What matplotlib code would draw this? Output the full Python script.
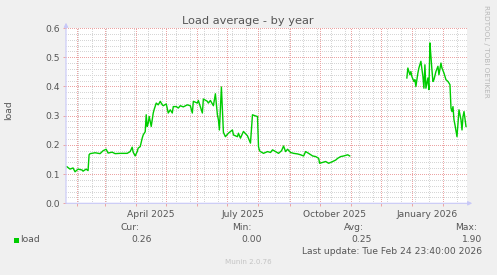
import matplotlib
matplotlib.use('Agg')
import matplotlib.pyplot as plt
import numpy as np
import pandas as pd

# ---------------- data ----------------
dates_a = [
    "2025-01-22", "2025-01-25", "2025-01-28", "2025-01-30",
    "2025-02-02", "2025-02-06", "2025-02-07", "2025-02-10", "2025-02-12", "2025-02-13", "2025-02-14", "2025-02-19", "2025-02-24", "2025-02-27",
    "2025-03-02", "2025-03-04", "2025-03-08", "2025-03-11", "2025-03-16", "2025-03-23", "2025-03-26", "2025-03-28", "2025-03-29", "2025-03-31",
    "2025-04-02", "2025-04-03", "2025-04-05", "2025-04-07", "2025-04-08", "2025-04-10", "2025-04-11", "2025-04-12", "2025-04-13", "2025-04-14", "2025-04-16", "2025-04-18", "2025-04-19", "2025-04-21", "2025-04-23", "2025-04-25", "2025-04-27", "2025-04-28",
    "2025-05-01", "2025-05-03", "2025-05-05", "2025-05-07", "2025-05-08", "2025-05-11", "2025-05-13", "2025-05-15", "2025-05-18", "2025-05-22", "2025-05-25", "2025-05-27", "2025-05-28",
    "2025-06-01", "2025-06-02", "2025-06-06", "2025-06-07", "2025-06-11", "2025-06-12", "2025-06-14", "2025-06-17", "2025-06-19", "2025-06-21", "2025-06-22", "2025-06-23", "2025-06-25", "2025-06-27", "2025-06-29",
    "2025-07-02", "2025-07-06", "2025-07-07", "2025-07-11", "2025-07-12", "2025-07-14", "2025-07-17", "2025-07-21", "2025-07-24", "2025-07-26", "2025-07-29", "2025-07-31",
    "2025-08-01", "2025-08-02", "2025-08-03", "2025-08-06", "2025-08-10", "2025-08-13", "2025-08-15", "2025-08-18", "2025-08-21", "2025-08-24", "2025-08-26", "2025-08-28", "2025-08-30",
    "2025-09-02", "2025-09-05", "2025-09-09", "2025-09-12", "2025-09-15", "2025-09-17", "2025-09-20", "2025-09-24", "2025-09-27", "2025-09-30",
    "2025-10-01", "2025-10-04", "2025-10-07", "2025-10-10", "2025-10-14", "2025-10-17", "2025-10-19", "2025-10-22", "2025-10-25", "2025-10-29", "2025-10-31",
]
load_a = [
    0.125, 0.117, 0.121, 0.108,
    0.117, 0.114, 0.110, 0.117, 0.112, 0.166, 0.170, 0.173, 0.170, 0.180,
    0.185, 0.172, 0.175, 0.170, 0.171, 0.171, 0.177, 0.192, 0.175, 0.162,
    0.177, 0.189, 0.194, 0.223, 0.234, 0.245, 0.303, 0.263, 0.274, 0.297, 0.263, 0.309, 0.322, 0.343, 0.337, 0.349, 0.337, 0.334,
    0.340, 0.309, 0.320, 0.309, 0.331, 0.331, 0.326, 0.334, 0.330, 0.337, 0.334, 0.309, 0.349,
    0.343, 0.352, 0.309, 0.357, 0.349, 0.343, 0.352, 0.334, 0.375, 0.303, 0.286, 0.251, 0.398, 0.243, 0.228,
    0.240, 0.251, 0.234, 0.228, 0.240, 0.223, 0.246, 0.231, 0.206, 0.303, 0.299, 0.297,
    0.194, 0.180, 0.177, 0.171, 0.177, 0.174, 0.183, 0.177, 0.171, 0.180, 0.196, 0.177, 0.185,
    0.174, 0.171, 0.169, 0.166, 0.162, 0.177, 0.171, 0.162, 0.160, 0.154,
    0.137, 0.140, 0.143, 0.137, 0.143, 0.148, 0.154, 0.160, 0.162, 0.166, 0.162,
]
dates_b = [
    "2025-12-27", "2025-12-28", "2025-12-30", "2025-12-31",
    "2026-01-01", "2026-01-03", "2026-01-04", "2026-01-05", "2026-01-07", "2026-01-08", "2026-01-10", "2026-01-12", "2026-01-13", "2026-01-14", "2026-01-15", "2026-01-17", "2026-01-18", "2026-01-19", "2026-01-20", "2026-01-21", "2026-01-22", "2026-01-23", "2026-01-25", "2026-01-27", "2026-01-28", "2026-01-30", "2026-01-31",
    "2026-02-02", "2026-02-04", "2026-02-06", "2026-02-08", "2026-02-09", "2026-02-10", "2026-02-11", "2026-02-12", "2026-02-13", "2026-02-15", "2026-02-16", "2026-02-17", "2026-02-19", "2026-02-20", "2026-02-21", "2026-02-22", "2026-02-24",
]
load_b = [
    0.429, 0.463, 0.440, 0.451,
    0.434, 0.417, 0.423, 0.400, 0.446, 0.463, 0.486, 0.434, 0.394, 0.474, 0.394, 0.429, 0.389, 0.549, 0.503, 0.457, 0.417, 0.423, 0.451, 0.469, 0.440, 0.480, 0.463,
    0.446, 0.423, 0.417, 0.406, 0.326, 0.314, 0.331, 0.286, 0.268, 0.228, 0.274, 0.320, 0.286, 0.251, 0.297, 0.314, 0.263,
]
y_ticks = [0.0, 0.1, 0.2, 0.3, 0.4, 0.5, 0.6]
x_tick_labels = ["April 2025", "July 2025", "October 2025", "January 2026"]
x_tick_months = ["2025-04-01", "2025-07-01", "2025-10-01", "2026-01-01"]
range_start = "2025-01-20 23:40"
range_end = "2026-02-24 23:40"
legend_name = "load"
stat_names = ["Cur:", "Min:", "Avg:", "Max:"]
stat_values = ["0.26", "0.00", "0.25", "1.90"]
last_update = "Last update: Tue Feb 24 23:40:00 2026"

# ---------------- figure ----------------
W, H = 497, 275
TXT = '#555555'
GRID = '#d6d6d6'
MGRID = '#eca4a4'
AXIS = '#c8c8f8'
plt.rcParams['font.family'] = ['DejaVu Sans']

fig = plt.figure(figsize=(W / 100, H / 100), dpi=100, facecolor='#F0F0F0')
ax = fig.add_axes([66 / W, (H - 203.3) / H, 401 / W, 175.3 / H])
ax.set_facecolor('white')
t0, t1 = pd.Timestamp(range_start), pd.Timestamp(range_end)
ax.set_xlim(t0, t1)
ax.set_ylim(y_ticks[0], y_ticks[-1])
for s in ax.spines.values():
    s.set_visible(False)

dot = (0.5, (1, 1))
gkw = dict(lw=0.72, ls=dot, antialiased=True)
# minor horizontal grid
for v in np.arange(0.02, 0.6, 0.02):
    if abs(v * 10 - round(v * 10)) > 1e-6:
        ax.axhline(v, color=GRID, zorder=1, **gkw)
# minor vertical grid (every 2 weeks)
for d in pd.date_range("2025-02-02", t1, freq="14D"):
    ax.axvline(d, color=GRID, zorder=1, **gkw)
# major grid
for v in y_ticks[1:]:
    ax.axhline(v, color=MGRID, zorder=2, **gkw)
months = pd.date_range("2025-02-01", t1, freq="MS")
for d in months:
    ax.axvline(d, color=MGRID, zorder=2, **gkw)

ax.plot(pd.to_datetime(dates_a), load_a, color='#00cc00', lw=1.0, zorder=5)
ax.plot(pd.to_datetime(dates_b), load_b, color='#00cc00', lw=1.0, zorder=5)

# ticks
ax.set_yticks(y_ticks)
ax.set_yticklabels([f"{v:.1f}" for v in y_ticks])
ax.tick_params(axis='y', length=2, width=0.7, color=MGRID, labelsize=6.6,
               labelcolor=TXT, pad=2.5)
label_pos = [pd.Timestamp(m) + pd.Timedelta(days=15) for m in x_tick_months]
ax.set_xticks(label_pos)
ax.set_xticklabels(x_tick_labels)
ax.tick_params(axis='x', which='major', length=0, labelsize=6.6, labelcolor=TXT, pad=4.5)
ax.set_xticks(months, minor=True)
ax.tick_params(axis='x', which='minor', length=2, width=0.7, color=MGRID)

# axes with arrows
ax.annotate('', xy=(1.013, 0), xytext=(0, 0), xycoords='axes fraction',
            arrowprops=dict(arrowstyle='-|>', color=AXIS, lw=0.8, mutation_scale=6,
                            shrinkA=0, shrinkB=0), annotation_clip=False, zorder=6)
ax.annotate('', xy=(0, 1.03), xytext=(0, 0), xycoords='axes fraction',
            arrowprops=dict(arrowstyle='-|>', color=AXIS, lw=0.8, mutation_scale=6,
                            shrinkA=0, shrinkB=0), annotation_clip=False, zorder=6)


def px(x, y):
    return x / W, 1 - y / H


fig.text(*px(248, 21.5), "Load average - by year", ha='center', va='center', size=8.2, color=TXT)
fig.text(*px(8.5, 110), "load", ha='center', va='center', rotation=90, size=6.6, color=TXT)
fig.text(*px(486, 51), "RRDTOOL / TOBI OETIKER", ha='center', va='center', rotation=270,
         size=5.2, color='#b8b8b8')

# legend
fig.patches.append(plt.Rectangle(px(14, 242.5), 5 / W, 5 / H, transform=fig.transFigure,
                                 facecolor='#00cc00', edgecolor='none'))
fig.text(*px(20, 239.5), legend_name, ha='left', va='center', size=6.6, color=TXT)
name_x = [130, 242, 353.5, 466]
val_x = [141.7, 252, 362, 472]
for nx, vx, n, v in zip(name_x, val_x, stat_names, stat_values):
    fig.text(*px(nx, 227.7), n, ha='center', va='center', size=6.6, color=TXT)
    fig.text(*px(vx, 239.5), v, ha='center', va='center', size=6.6, color=TXT)
fig.text(*px(482, 251.7), last_update, ha='right', va='center', size=6.6, color=TXT)
fig.text(*px(248, 262.5), "Munin 2.0.76", ha='center', va='center', size=5.1, color='#c4c4c4')

fig.savefig('out.png', dpi=100, facecolor=fig.get_facecolor())
